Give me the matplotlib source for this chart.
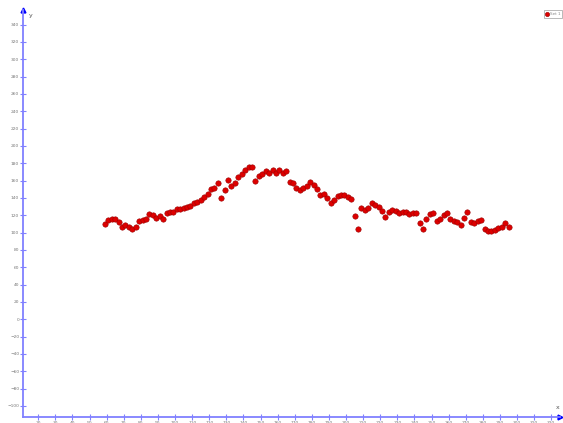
import numpy as np
import matplotlib
matplotlib.use('Agg')
from matplotlib import pyplot as plt

# sample positions (every 2 units) and measured values
xs = np.arange(59, 296, 2)
ys = [110, 115, 116, 116, 112, 106, 109, 107, 104, 107,
      113, 115, 116, 121, 120, 117, 119, 116, 123, 124,
      124, 127, 127, 128, 130, 131, 134, 135, 138, 141,
      145, 150, 152, 157, 140, 149, 161, 154, 157, 164,
      168, 172, 176, 176, 160, 165, 168, 171, 169, 172,
      169, 172, 169, 171, 158, 157, 151, 149, 152, 154,
      158, 155, 150, 143, 145, 140, 134, 138, 142, 143,
      143, 141, 139, 119, 104, 128, 126, 128, 134, 132,
      130, 125, 118, 124, 126, 125, 123, 124, 124, 121,
      123, 123, 111, 104, 116, 122, 123, 113, 116, 120,
      123, 116, 113, 112, 109, 117, 124, 112, 111, 113,
      115, 104, 102, 102, 103, 105, 107, 111, 107]

x_ticks = np.arange(20, 321, 10)
y_ticks = np.arange(-100, 341, 20)
x_lim = (10.9, 325.1)
y_lim = (-113.1, 356.9)

axis_col = '#8080ff'
dot_col = '#dd0000'

fig = plt.figure(figsize=(5.63, 4.23), dpi=100)
ax = fig.add_axes([0.0403, 0.0135, 0.9544, 0.9629])

ax.scatter(xs, ys, s=15, color=dot_col, edgecolors='#990000', linewidths=0.4,
           zorder=3, label='Set 1')

ax.set_xlim(*x_lim)
ax.set_ylim(*y_lim)
ax.set_xticks(x_ticks)
ax.set_yticks(y_ticks)

for s in ['top', 'right']:
    ax.spines[s].set_visible(False)
for s in ['left', 'bottom']:
    ax.spines[s].set_color(axis_col)
    ax.spines[s].set_linewidth(1.3)

ax.tick_params(direction='inout', length=4, width=0.8, color=axis_col,
               labelsize=3.2, labelcolor='#777777', pad=0.5)

# arrow heads at the end of each axis
ax.plot([0], [1], marker='^', color='#0000ff', markersize=3.5,
        transform=ax.transAxes, clip_on=False)
ax.plot([1], [0], marker='>', color='#0000ff', markersize=3.5,
        transform=ax.transAxes, clip_on=False)
ax.text(0.012, 0.992, 'y', transform=ax.transAxes, fontsize=4.5,
        color='#555555', ha='left', va='top')
ax.text(0.996, 0.018, 'x', transform=ax.transAxes, fontsize=4.5,
        color='#555555', ha='center', va='bottom')

leg = ax.legend(loc='upper right', bbox_to_anchor=(1.004, 1.0), fontsize=3,
                markerscale=0.8, handlelength=0.6, handletextpad=0.3,
                borderpad=0.5, borderaxespad=0, frameon=True, fancybox=False)
leg.get_frame().set_edgecolor('#999999')
leg.get_frame().set_linewidth(0.6)
for t in leg.get_texts():
    t.set_color('#888888')

plt.savefig('out.png', dpi=100)
